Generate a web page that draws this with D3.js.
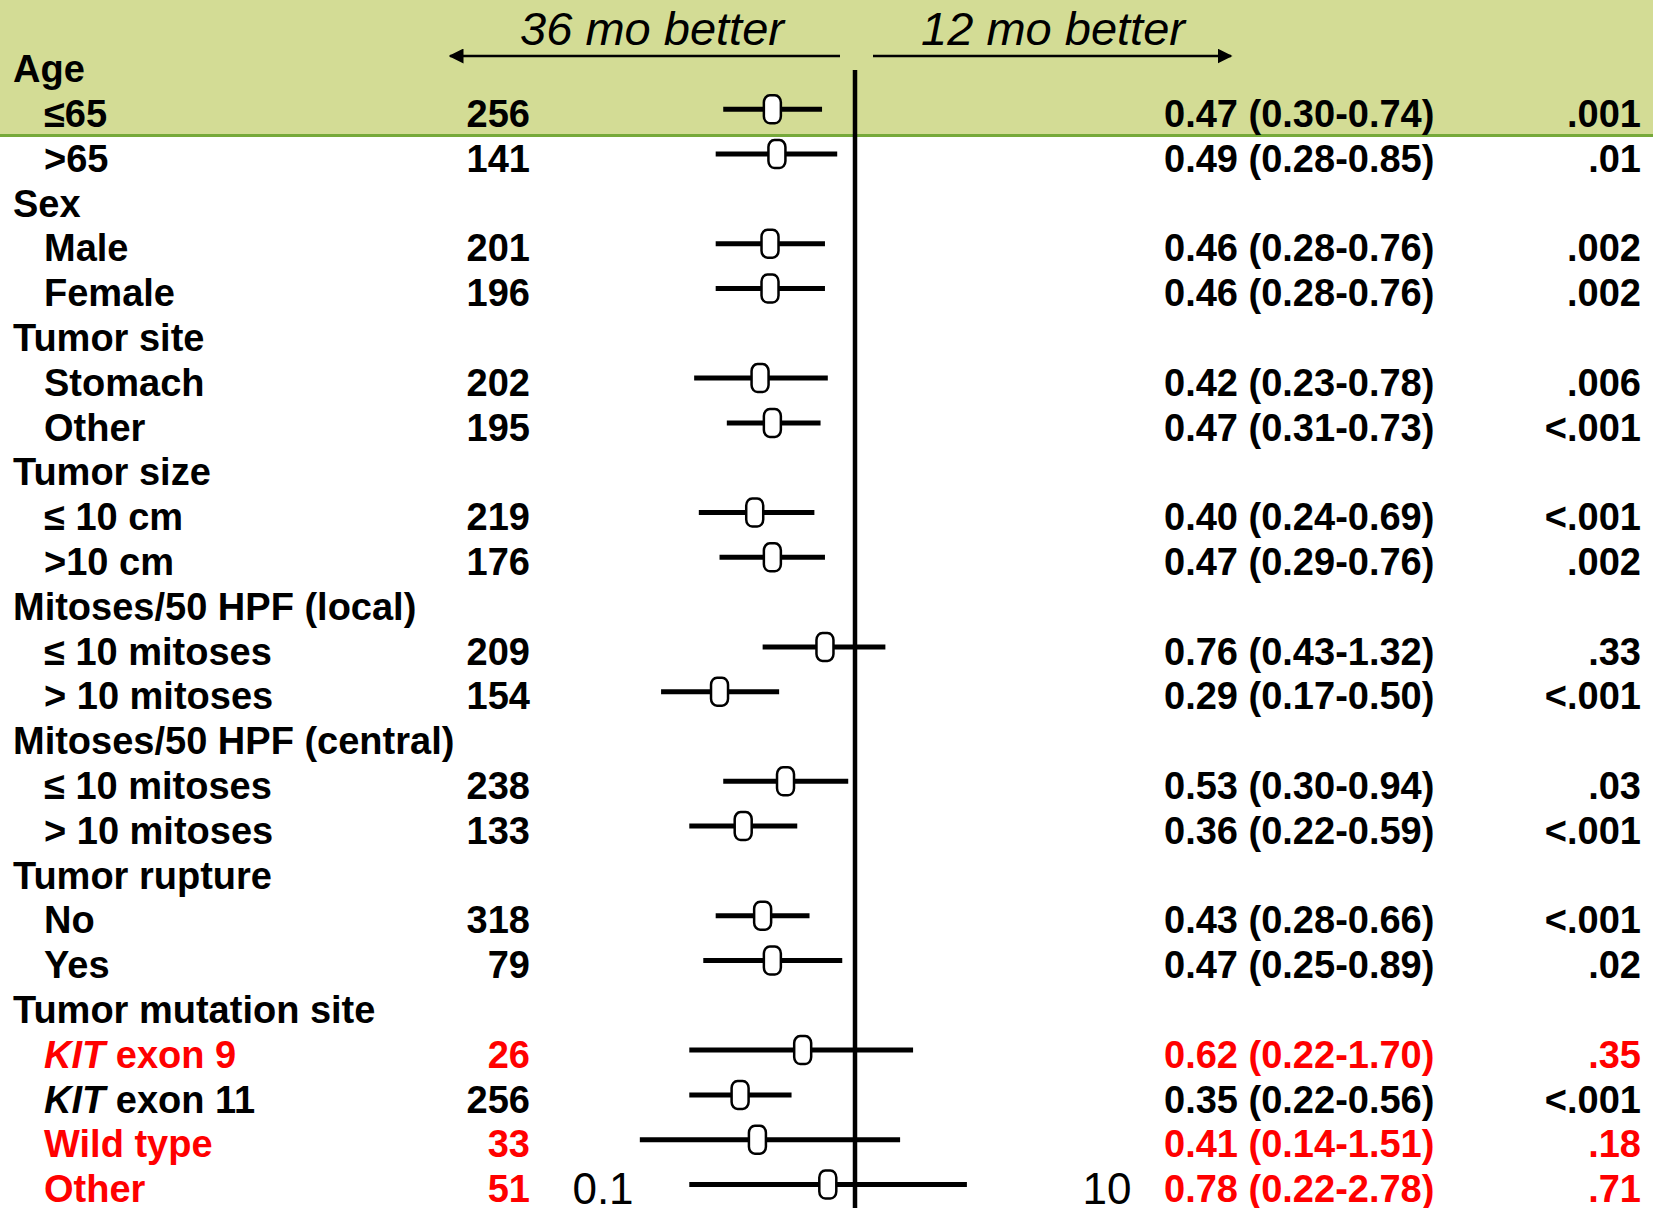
<!DOCTYPE html>
<html>
<head>
<meta charset="utf-8">
<script src="https://cdn.jsdelivr.net/npm/d3@7"></script>
<style>
  html, body { margin: 0; padding: 0; background: #fff; }
  svg { display: block; font-family: "Liberation Sans", Arial, sans-serif; }
</style>
</head>
<body>
<svg width="1653" height="1208"></svg>
<script>
// subgroup rows, top to bottom (null = group heading, no estimate)
var labels = ['Age', '≤65', '>65', 'Sex', 'Male', 'Female', 'Tumor site', 'Stomach', 'Other',
  'Tumor size', '≤ 10 cm', '>10 cm', 'Mitoses/50 HPF (local)', '≤ 10 mitoses', '> 10 mitoses',
  'Mitoses/50 HPF (central)', '≤ 10 mitoses', '> 10 mitoses', 'Tumor rupture', 'No', 'Yes',
  'Tumor mutation site', 'KIT exon 9', 'KIT exon 11', 'Wild type', 'Other'];
var nPatients = [null, 256, 141, null, 201, 196, null, 202, 195, null, 219, 176, null, 209, 154,
  null, 238, 133, null, 318, 79, null, 26, 256, 33, 51];
var hazard = [null, 0.47, 0.49, null, 0.46, 0.46, null, 0.42, 0.47, null, 0.40, 0.47, null, 0.76, 0.29,
  null, 0.53, 0.36, null, 0.43, 0.47, null, 0.62, 0.35, 0.41, 0.78];
var ciLow = [null, 0.30, 0.28, null, 0.28, 0.28, null, 0.23, 0.31, null, 0.24, 0.29, null, 0.43, 0.17,
  null, 0.30, 0.22, null, 0.28, 0.25, null, 0.22, 0.22, 0.14, 0.22];
var ciHigh = [null, 0.74, 0.85, null, 0.76, 0.76, null, 0.78, 0.73, null, 0.69, 0.76, null, 1.32, 0.50,
  null, 0.94, 0.59, null, 0.66, 0.89, null, 1.70, 0.56, 1.51, 2.78];
var pValues = [null, '.001', '.01', null, '.002', '.002', null, '.006', '<.001', null, '<.001', '.002',
  null, '.33', '<.001', null, '.03', '<.001', null, '<.001', '.02', null, '.35', '<.001', '.18', '.71'];
var redRows = [22, 24, 25];
var axisTicks = [0.1, 10];

var svg = d3.select('svg');
var red = '#ff0000';
var fs = 38;

var x = d3.scaleLog().domain([0.1, 10]).range([603, 1107]);
var y = d3.scalePoint().domain(d3.range(labels.length)).range([68.5, 1188.5]);
var fmt = d3.format('.2f');

// green header band
svg.append('rect').attr('x', 0).attr('y', 0).attr('width', 1653).attr('height', 135).attr('fill', '#d3dc95');
svg.append('line').attr('x1', 0).attr('x2', 1653).attr('y1', 135.5).attr('y2', 135.5)
  .attr('stroke', '#76a93a').attr('stroke-width', 3);

// arrows
var defs = svg.append('defs');
defs.append('marker').attr('id', 'arr').attr('viewBox', '0 0 10 10').attr('refX', 9).attr('refY', 5)
  .attr('markerWidth', 6).attr('markerHeight', 6).attr('markerUnits', 'strokeWidth').attr('orient', 'auto')
  .append('path').attr('d', 'M0,0L10,5L0,10Z').attr('fill', '#000');
svg.append('line').attr('x1', 840).attr('x2', 450).attr('y1', 56).attr('y2', 56)
  .attr('stroke', '#000').attr('stroke-width', 2.5).attr('marker-end', 'url(#arr)');
svg.append('line').attr('x1', 873).attr('x2', 1231).attr('y1', 56).attr('y2', 56)
  .attr('stroke', '#000').attr('stroke-width', 2.5).attr('marker-end', 'url(#arr)');
svg.append('text').attr('x', 652).attr('y', 45).attr('text-anchor', 'middle')
  .attr('font-size', 47).attr('font-style', 'italic').text('36 mo better');
svg.append('text').attr('x', 1053).attr('y', 45).attr('text-anchor', 'middle')
  .attr('font-size', 47).attr('font-style', 'italic').text('12 mo better');

// line of no effect
svg.append('line').attr('x1', x(1)).attr('x2', x(1)).attr('y1', 70).attr('y2', 1208)
  .attr('stroke', '#000').attr('stroke-width', 4.5);

var rows = svg.append('g').selectAll('g').data(labels).join('g');

rows.each(function (lab, i) {
  var g = d3.select(this);
  var col = redRows.indexOf(i) >= 0 ? red : '#000';
  var base = y(i) + fs * 0.36;
  var heading = nPatients[i] === null;
  var t = g.append('text').attr('x', heading ? 13 : 44).attr('y', base)
    .attr('font-size', fs).attr('font-weight', 'bold').attr('fill', col);
  if (lab.indexOf('KIT ') === 0) {
    t.append('tspan').attr('font-style', 'italic').text('KIT');
    t.append('tspan').text(lab.slice(3));
  } else {
    t.text(lab);
  }
  if (heading) return;
  g.append('text').attr('x', 530).attr('y', base).attr('text-anchor', 'end')
    .attr('font-size', fs).attr('font-weight', 'bold').attr('fill', col).text(nPatients[i]);
  g.append('text').attr('x', 1164).attr('y', base)
    .attr('font-size', fs).attr('font-weight', 'bold').attr('fill', col)
    .text(fmt(hazard[i]) + ' (' + fmt(ciLow[i]) + '-' + fmt(ciHigh[i]) + ')');
  g.append('text').attr('x', 1641).attr('y', base).attr('text-anchor', 'end')
    .attr('font-size', fs).attr('font-weight', 'bold').attr('fill', col).text(pValues[i]);

  var ly = y(i) - 4;
  g.append('line').attr('x1', x(ciLow[i])).attr('x2', x(ciHigh[i])).attr('y1', ly).attr('y2', ly)
    .attr('stroke', '#000').attr('stroke-width', 5);
  g.append('rect').attr('x', x(hazard[i]) - 8.5).attr('y', ly - 14).attr('width', 17).attr('height', 28)
    .attr('rx', 6).attr('ry', 7).attr('fill', '#fff').attr('stroke', '#000').attr('stroke-width', 2.5);
});

// scale end labels
svg.selectAll('.tick').data(axisTicks).join('text').attr('class', 'tick')
  .attr('x', function (d) { return x(d); }).attr('y', 1204).attr('text-anchor', 'middle')
  .attr('font-size', 44).text(function (d) { return d; });
</script>
</body>
</html>
